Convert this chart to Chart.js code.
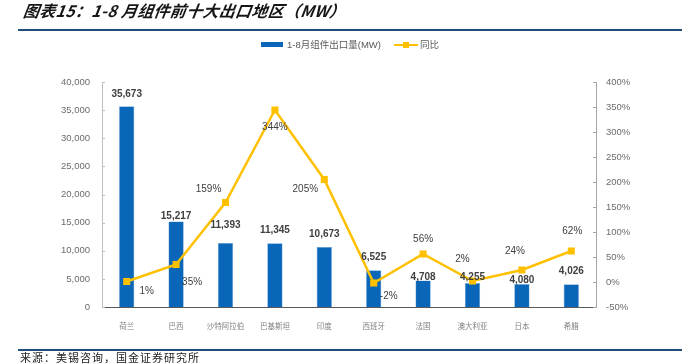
<!DOCTYPE html>
<html>
<head>
<meta charset="utf-8">
<script src="https://cdn.jsdelivr.net/npm/chart.js@4.4.1/dist/chart.umd.min.js"></script>
<style>
  html, body { margin:0; padding:0; background:#fff; width:682px; height:364px; overflow:hidden; }
  #wrap { position:relative; width:682px; height:364px; }
  canvas { position:absolute; left:0; top:0; }
  .title { position:absolute; left:22px; top:1px; font: italic bold 16px "Noto Sans CJK SC", sans-serif; color:#161616; line-height:19px; white-space:nowrap; transform: skewX(-8deg); transform-origin:left bottom; letter-spacing:0.3px; }
  .rule { position:absolute; left:18px; width:664px; height:2px; background:#1f4e79; }
  .source { position:absolute; left:20px; top:349px; font: 11px "Noto Sans CJK SC", sans-serif; color:#222; letter-spacing:1px; line-height:16px; white-space:nowrap; }
  .legend { position:absolute; top:37px; height:16px; font: 9.5px "Liberation Sans", "Noto Sans CJK SC", sans-serif; color:#595959; white-space:nowrap; }
  .lg-bar { position:absolute; left:261px; top:42px; width:22px; height:5px; background:#0a66b8; }
  .lg-line { position:absolute; left:394px; top:43.5px; width:24px; height:2px; background:#ffc000; }
  .lg-mark { position:absolute; left:403px; top:41.5px; width:6px; height:6px; background:#ffc000; }
</style>
</head>
<body>
<div id="wrap">
  <canvas id="c" width="682" height="364"></canvas>
  <div class="title">图表15：1-8 月组件前十大出口地区（MW）</div>
  <div class="rule" style="top:28.5px;"></div>
  <div class="lg-bar"></div>
  <div class="legend" style="left:287px;">1-8月组件出口量(MW)</div>
  <div class="lg-line"></div>
  <div class="lg-mark"></div>
  <div class="legend" style="left:420px;">同比</div>
  <div class="rule" style="top:348.5px;"></div>
  <div class="source">来源：美锡咨询，国金证券研究所</div>
</div>
<script>
// ---- data ----
const categories = ['荷兰', '巴西', '沙特阿拉伯', '巴基斯坦', '印度', '西班牙', '法国', '澳大利亚', '日本', '希腊'];
const exportVolume = [35673, 15217, 11393, 11345, 10673, 6525, 4708, 4255, 4080, 4026];
const yoyGrowth = [1, 35, 159, 344, 205, -2, 56, 2, 24, 62];
const leftTicks = [0, 5000, 10000, 15000, 20000, 25000, 30000, 35000, 40000];
const rightTicks = [-50, 0, 50, 100, 150, 200, 250, 300, 350, 400];

// label placement (offsets in px, relative to the mark)
const barLabelGap = [12, 5, 18, 13, 13, 13, 3, 6, 4, 13];
const lineLabelOffset = [[20, 10], [16, 18], [-17, -13], [0, 17], [-19, 10], [15, 13], [0, -15], [-10, -22], [-7, -19], [1, -20]];

const NUM_FONT = '"Liberation Sans", "Noto Sans CJK SC", sans-serif';

const annotate = {
  id: 'annotate',
  afterDatasetsDraw(chart) {
    const ctx = chart.ctx;
    ctx.save();
    ctx.textAlign = 'center';
    ctx.textBaseline = 'middle';
    // line labels
    const lm = chart.getDatasetMeta(1);
    ctx.font = '10px ' + NUM_FONT;
    ctx.fillStyle = '#404040';
    lm.data.forEach((pt, i) => {
      const o = lineLabelOffset[i];
      ctx.fillText(yoyGrowth[i] + '%', pt.x + o[0], pt.y + o[1]);
    });
    // bar labels
    const bm = chart.getDatasetMeta(0);
    ctx.font = 'bold 10px ' + NUM_FONT;
    ctx.fillStyle = '#404040';
    bm.data.forEach((bar, i) => {
      ctx.fillText(exportVolume[i].toLocaleString('en-US'), bar.x, bar.y - barLabelGap[i]);
    });
    // inward tick marks on the value axes
    const ys = chart.scales.y, yr = chart.scales.y1;
    ctx.lineWidth = 1;
    ctx.strokeStyle = '#bfbfbf';
    leftTicks.forEach(v => {
      const y = Math.round(ys.getPixelForValue(v)) + 0.5;
      ctx.beginPath(); ctx.moveTo(ys.right, y); ctx.lineTo(ys.right + 3, y); ctx.stroke();
    });
    ctx.strokeStyle = '#a6a6a6';
    rightTicks.forEach(v => {
      const y = Math.round(yr.getPixelForValue(v)) + 0.5;
      ctx.beginPath(); ctx.moveTo(yr.left - 3, y); ctx.lineTo(yr.left, y); ctx.stroke();
    });
    ctx.restore();
  }
};

new Chart(document.getElementById('c'), {
  data: {
    labels: categories,
    datasets: [
      {
        type: 'bar',
        label: '1-8月组件出口量(MW)',
        data: exportVolume,
        yAxisID: 'y',
        backgroundColor: '#0a66b8',
        borderColor: '#6fa8dc',
        borderWidth: 0.6,
        barPercentage: 0.31,
        categoryPercentage: 1,
        order: 1
      },
      {
        type: 'line',
        label: '同比',
        data: yoyGrowth,
        yAxisID: 'y1',
        borderColor: '#ffc000',
        backgroundColor: '#ffc000',
        borderWidth: 2.5,
        pointStyle: 'rect',
        pointRadius: 5,
        pointHoverRadius: 5,
        pointBorderWidth: 0,
        tension: 0,
        order: 0
      }
    ]
  },
  options: {
    responsive: false,
    animation: false,
    layout: { padding: { top: 82, left: 0, right: 0, bottom: 0 } },
    plugins: { legend: { display: false }, tooltip: { enabled: false }, title: { display: false } },
    scales: {
      x: {
        offset: true,
        grid: { display: false },
        border: { display: true, color: '#595959', width: 1 },
        ticks: { font: { size: 7.5, family: '"Noto Sans CJK SC", sans-serif' }, color: '#7f7f7f', padding: 7, maxRotation: 0, autoSkip: false },
        afterFit(s) { s.height = 57; }
      },
      y: {
        position: 'left',
        min: 0, max: 40000,
        afterBuildTicks(s) { s.ticks = leftTicks.map(v => ({ value: v })); },
        grid: { display: false, drawTicks: false },
        border: { display: true, color: '#bfbfbf', width: 1 },
        ticks: { font: { size: 9.5, family: NUM_FONT }, color: '#6b6b6b', padding: 12, callback: v => v.toLocaleString('en-US') },
        afterFit(s) { s.width = 102; }
      },
      y1: {
        position: 'right',
        min: -50, max: 400,
        afterBuildTicks(s) { s.ticks = rightTicks.map(v => ({ value: v })); },
        grid: { display: false, drawTicks: false },
        border: { display: true, color: '#a6a6a6', width: 1 },
        ticks: { font: { size: 9.5, family: NUM_FONT }, color: '#6b6b6b', padding: 10, callback: v => v + '%' },
        afterFit(s) { s.width = 86; }
      }
    }
  },
  plugins: [annotate]
});
</script>
</body>
</html>
